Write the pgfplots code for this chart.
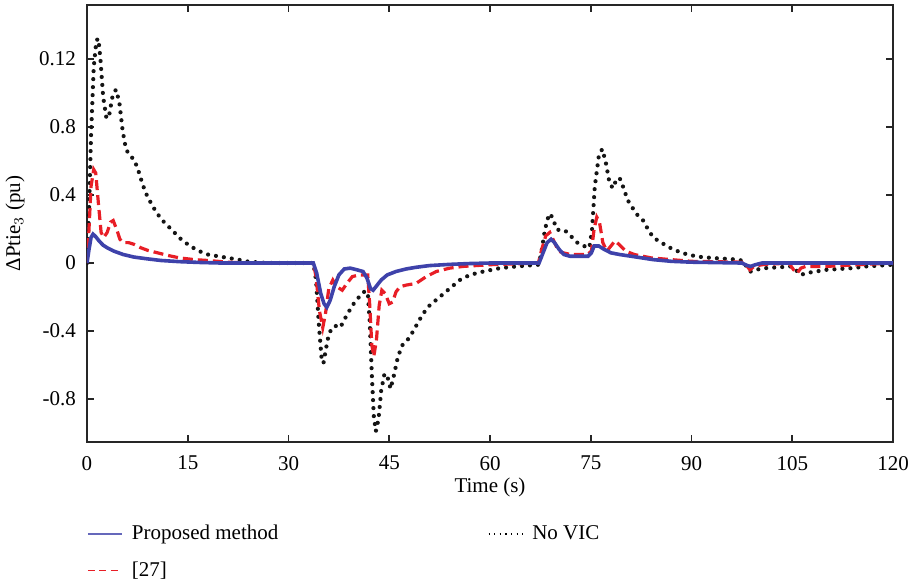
\documentclass[border=0pt]{standalone}
\usepackage{fontspec}
\setmainfont{Liberation Serif}
\usepackage{pgfplots}
\pgfplotsset{compat=1.18}
\definecolor{pblue}{RGB}{62,66,170}
\definecolor{pred}{RGB}{232,30,38}
\definecolor{pblack}{RGB}{20,20,20}
\begin{document}
\begin{tikzpicture}
\useasboundingbox (-43.5pt,-69pt) rectangle (411.5pt,221pt);
\begin{axis}[
 at={(0,0)}, anchor=south west,
 scale only axis, width=403pt, height=218.5pt,
 xmin=0, xmax=120, ymin=-1.053, ymax=1.518,
 xtick={0,15,...,120},
 ytick={-0.8,-0.4,0,0.4,0.8,1.2},
 yticklabels={-0.8,-0.4,0,0.4,0.8,0.12},
 tick align=inside, major tick length=3.5pt,
 axis line style={line width=1pt, black!85},
 every tick/.style={black!85, line width=0.8pt},
 /pgf/number format/assume math mode=true,
 tick label style={font=\fontsize{10.5}{12}\selectfont},
 xticklabel style={yshift=-3.5pt},
 yticklabel style={xshift=-2pt},
 xlabel={Time (s)},
 ylabel={ΔPtie$_3$ (pu)},
 label style={font=\fontsize{10.5}{12}\selectfont},
 xlabel style={at={(axis description cs:0.5,-0.105)}, anchor=center},
 ylabel style={at={(axis description cs:-0.0893,0.5)}, rotate=0, anchor=center},
 legend columns=2,
 legend cell align=left,
 legend style={at={(axis description cs:0,-0.186)}, anchor=north west, draw=none, fill=none,
   inner sep=0pt, outer sep=0pt, font=\fontsize{10.5}{12}\selectfont,
   nodes={inner sep=1pt}, row sep=7.5pt},
]
\addplot[pblack, line width=2.1pt, dash pattern=on 0pt off 4pt, line cap=round, forget plot] coordinates {
(0,0) (0.3,0.3) (0.6,0.75) (1.0,1.15) (1.4,1.31) (1.7,1.32) (2.0,1.2) (2.4,0.98) (2.9,0.85)
(3.3,0.87) (3.8,0.98) (4.3,1.02) (4.8,0.95) (5.3,0.78) (5.8,0.67) (6.4,0.63) (7.0,0.61)
(7.6,0.55) (8.3,0.46) (9.0,0.39) (10.0,0.32) (11.0,0.26) (12.0,0.22) (13.0,0.18) (14.0,0.14)
(15.0,0.11) (16.0,0.085) (17.0,0.065) (18.0,0.05) (19.5,0.04) (21.0,0.03) (22.5,0.02)
(24.0,0.008) (26,0.002) (28,0) (33.7,0) (34.1,-0.1) (34.5,-0.35) (34.9,-0.55) (35.2,-0.59)
(35.6,-0.5) (36.0,-0.42) (36.5,-0.38) (37.0,-0.37) (37.7,-0.38) (38.5,-0.32) (39.5,-0.25)
(40.5,-0.2) (41.2,-0.17) (41.8,-0.17) (42.1,-0.35) (42.4,-0.65) (42.7,-0.9) (43.0,-0.99)
(43.4,-0.92) (43.8,-0.75) (44.3,-0.65) (44.8,-0.68) (45.2,-0.74) (45.7,-0.66) (46.3,-0.55)
(47.0,-0.48) (48.0,-0.44) (49.0,-0.37) (50.0,-0.3) (51.0,-0.25) (52.5,-0.2) (54.0,-0.15)
(55.5,-0.1) (57.0,-0.07) (59.0,-0.05) (61.5,-0.03) (64,-0.02) (67.2,-0.01) (67.6,0.05)
(68.2,0.2) (68.8,0.29) (69.3,0.27) (69.9,0.2) (70.5,0.19) (71.2,0.19) (72.0,0.16) (73.0,0.12)
(74.0,0.1) (74.8,0.09) (75.2,0.2) (75.6,0.45) (76.2,0.63) (76.7,0.67) (77.2,0.6) (77.8,0.47)
(78.3,0.44) (78.8,0.49) (79.3,0.5) (79.8,0.45) (80.5,0.37) (81.3,0.32) (82.0,0.28) (82.8,0.25)
(83.5,0.2) (84.3,0.15) (85.5,0.12) (86.8,0.09) (88.5,0.06) (90,0.045) (91.5,0.035) (93,0.03)
(95,0.025) (97.0,0.02) (97.8,0.01) (98.4,-0.04) (98.8,-0.05) (99.5,-0.04) (101,-0.03)
(103,-0.025) (104.8,-0.02) (105.5,-0.04) (106.3,-0.07) (107,-0.06) (108.5,-0.05) (110,-0.04)
(112,-0.035) (114,-0.03) (116,-0.02) (118,-0.015) (120,-0.01)
};
\addplot[pred, line width=1.6pt, dash pattern=on 5pt off 2.5pt, forget plot] coordinates {
(0,0) (0.3,0.2) (0.6,0.45) (1.0,0.55) (1.3,0.53) (1.7,0.35) (2.1,0.18) (2.5,0.15) (3.0,0.18)
(3.5,0.24) (3.9,0.25) (4.4,0.2) (4.9,0.14) (5.4,0.12) (6.2,0.12) (7.0,0.11) (8.0,0.09)
(9.0,0.075) (10.5,0.06) (12,0.045) (13.8,0.03) (16,0.02) (18,0.015) (21,0.005) (24,0)
(33.7,0) (34.1,-0.08) (34.6,-0.28) (35.1,-0.38) (35.5,-0.3) (36.0,-0.15) (36.6,-0.1)
(37.2,-0.14) (38.0,-0.16) (38.7,-0.12) (39.5,-0.08) (40.5,-0.07) (41.8,-0.07) (42.1,-0.25)
(42.4,-0.48) (42.7,-0.55) (43.1,-0.45) (43.5,-0.25) (43.9,-0.16) (44.4,-0.18) (45.0,-0.24)
(45.5,-0.23) (46.0,-0.17) (46.6,-0.14) (47.5,-0.13) (49.0,-0.12) (50.5,-0.08) (52,-0.05)
(54,-0.03) (56,-0.02) (60,-0.01) (67.2,0) (67.7,0.08) (68.3,0.16) (68.9,0.18) (69.5,0.13)
(70.2,0.07) (70.9,0.06) (72,0.05) (74.5,0.05) (75.1,0.07) (75.5,0.2) (75.9,0.27) (76.3,0.24)
(76.8,0.12) (77.4,0.07) (78,0.1) (78.6,0.13) (79.2,0.11) (80.2,0.07) (81.5,0.05) (84,0.03)
(87,0.02) (90,0.01) (97.5,0.005) (98.3,-0.02) (98.7,-0.04) (99.3,-0.02) (100.5,-0.01)
(104.5,0) (105.2,-0.04) (105.7,-0.06) (106.3,-0.03) (107,-0.02) (110,-0.02) (115,-0.01) (120,0)
};
\addplot[pblue, line width=1.8pt, forget plot] coordinates {
(0,0) (0.3,0.08) (0.6,0.15) (0.9,0.17) (1.3,0.155) (1.8,0.13) (2.4,0.105) (3.0,0.09) (4.0,0.07)
(5.4,0.05) (7.0,0.035) (8.9,0.025) (11,0.015) (13.8,0.008) (17,0.003) (20,0) (33.7,0)
(34.2,-0.06) (34.8,-0.18) (35.3,-0.24) (35.7,-0.26) (36.2,-0.22) (36.8,-0.14) (37.5,-0.07)
(38.3,-0.035) (39.2,-0.03) (40.2,-0.04) (41.1,-0.05) (41.7,-0.09) (42.2,-0.15) (42.6,-0.16)
(43.2,-0.13) (43.8,-0.1) (44.7,-0.07) (46,-0.05) (47.5,-0.035) (49,-0.025) (51,-0.015)
(54,-0.008) (57,-0.003) (60,0) (67.3,0) (67.8,0.05) (68.5,0.12) (69.1,0.14) (69.6,0.12)
(70.3,0.08) (71.0,0.05) (71.9,0.04) (73.5,0.04) (74.6,0.04) (75.1,0.06) (75.5,0.1) (76.2,0.1)
(77,0.08) (78,0.06) (79.3,0.05) (81,0.04) (84.3,0.02) (87,0.01) (90,0.005) (97.5,0)
(98.3,-0.015) (98.8,-0.02) (99.5,-0.01) (100.5,0) (120,0)
};
\addlegendimage{pblue!80, line width=0.9pt}
\addlegendentry{\hspace{3.5pt}\makebox[177pt][l]{Proposed method}}
\addlegendimage{black, line width=0.6pt, dash pattern=on 0.6pt off 2.2pt}
\addlegendentry{\hspace{3.5pt}No VIC}
\addlegendimage{pred, line width=0.7pt, dash pattern=on 3.5pt off 2.2pt}
\addlegendentry{\hspace{3.5pt}[27]}
\end{axis}
\end{tikzpicture}
\end{document}
